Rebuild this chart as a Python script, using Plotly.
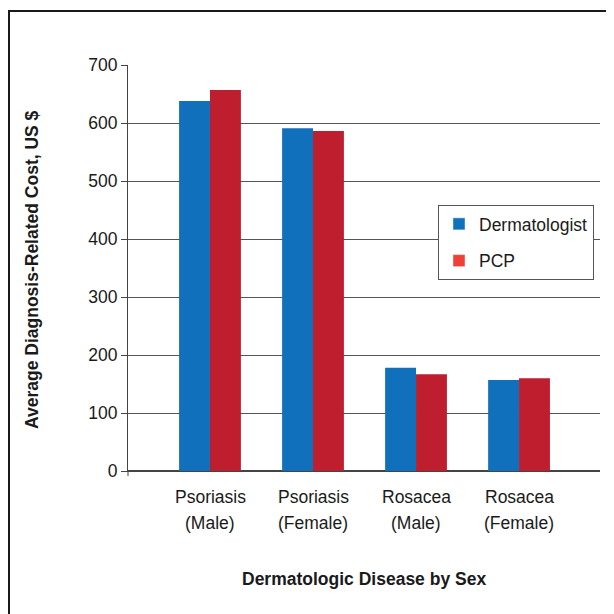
import plotly.graph_objects as go

# Data
categories = ["Psoriasis (Male)", "Psoriasis (Female)", "Rosacea (Male)", "Rosacea (Female)"]
label_line1 = ["Psoriasis", "Psoriasis", "Rosacea", "Rosacea"]
label_line2 = ["(Male)", "(Female)", "(Male)", "(Female)"]
dermatologist = [638, 591, 178, 157]
pcp = [657, 586, 167, 160]
y_ticks = [0, 100, 200, 300, 400, 500, 600, 700]

BLUE = "#1170BC"
RED = "#BE1E2D"
RED_LEGEND = "#EE4036"
FONT = "Liberation Sans, Arial, Helvetica, sans-serif"
TXT = "#1A1A1A"

# page offset (body margin) compensation
OFF = 8
W, H = 614, 614
L, R, T, B = 128 - OFF, 14 + OFF, 65 - OFF, 143 + OFF
pw, ph = W - L - R, H - T - B

def px_x(p):
    return (p - OFF - L) / pw

def px_y(p):
    return (H - B - (p - OFF)) / ph

fig = go.Figure()
xs = list(range(len(categories)))
fig.add_trace(go.Bar(x=xs, y=dermatologist, name="Dermatologist", width=0.3, offset=-0.3,
                     marker=dict(color=BLUE, line=dict(width=0)), showlegend=False))
fig.add_trace(go.Bar(x=xs, y=pcp, name="PCP", width=0.3, offset=0,
                     marker=dict(color=RED, line=dict(width=0)), showlegend=False))
# legend swatches
fig.add_trace(go.Bar(x=[None], y=[None], name="Dermatologist", marker=dict(color=BLUE),
                     legendgroup="a", showlegend=True))
fig.add_trace(go.Bar(x=[None], y=[None], name="PCP", marker=dict(color=RED_LEGEND),
                     legendgroup="b", showlegend=True))

annotations = []
for i in xs:
    annotations.append(dict(x=i, y=0, xref="x", yref="paper", yshift=-26, text=label_line1[i],
                            showarrow=False, font=dict(family=FONT, size=17.5, color=TXT),
                            xanchor="center", yanchor="middle"))
    annotations.append(dict(x=i, y=0, xref="x", yref="paper", yshift=-52, text=label_line2[i],
                            showarrow=False, font=dict(family=FONT, size=17.5, color=TXT),
                            xanchor="center", yanchor="middle"))
annotations.append(dict(x=px_x(32), y=px_y(270), xref="paper", yref="paper",
                        text="<b>Average Diagnosis-Related Cost, US $</b>", textangle=-90,
                        showarrow=False, font=dict(family=FONT, size=17.5, color=TXT),
                        xanchor="center", yanchor="middle"))
annotations.append(dict(x=px_x(364), y=px_y(579), xref="paper", yref="paper",
                        text="<b>Dermatologic Disease by Sex</b>",
                        showarrow=False, font=dict(family=FONT, size=17.5, color=TXT),
                        xanchor="center", yanchor="middle"))

shapes = [
    dict(type="rect", xref="paper", yref="paper", x0=px_x(9), y0=px_y(11), x1=px_x(800), y1=px_y(800),
         line=dict(color="#1a1a1a", width=2), layer="below"),
    dict(type="line", xref="paper", yref="paper", x0=0, x1=0, y0=0, y1=px_y(471 + 5),
         line=dict(color="#444", width=1)),
]

fig.update_layout(
    width=W, height=H,
    margin=dict(l=L, r=R, t=T, b=B, pad=0),
    paper_bgcolor="white", plot_bgcolor="white",
    barmode="overlay",
    font=dict(family=FONT, size=17, color=TXT),
    xaxis=dict(range=[-0.796, 3.786], showticklabels=False, ticks="", showgrid=False,
               zeroline=False, showline=True, linecolor="#444", linewidth=1, fixedrange=True),
    yaxis=dict(range=[0, 700], tickvals=y_ticks, ticks="outside", ticklen=6, tickcolor="#444",
               showgrid=True, gridcolor="#555", gridwidth=1, zeroline=True, zerolinecolor="#444",
               showline=True, linecolor="#444", linewidth=1,
               tickfont=dict(family=FONT, size=17.5, color=TXT)),
    legend=dict(x=px_x(438), y=px_y(205), xanchor="left", yanchor="top",
                bgcolor="white", bordercolor="#555", borderwidth=1,
                traceorder="grouped", tracegroupgap=11,
                font=dict(family=FONT, size=17.5, color=TXT)),
    annotations=annotations,
    shapes=shapes,
)

fig.write_html("out.html")
